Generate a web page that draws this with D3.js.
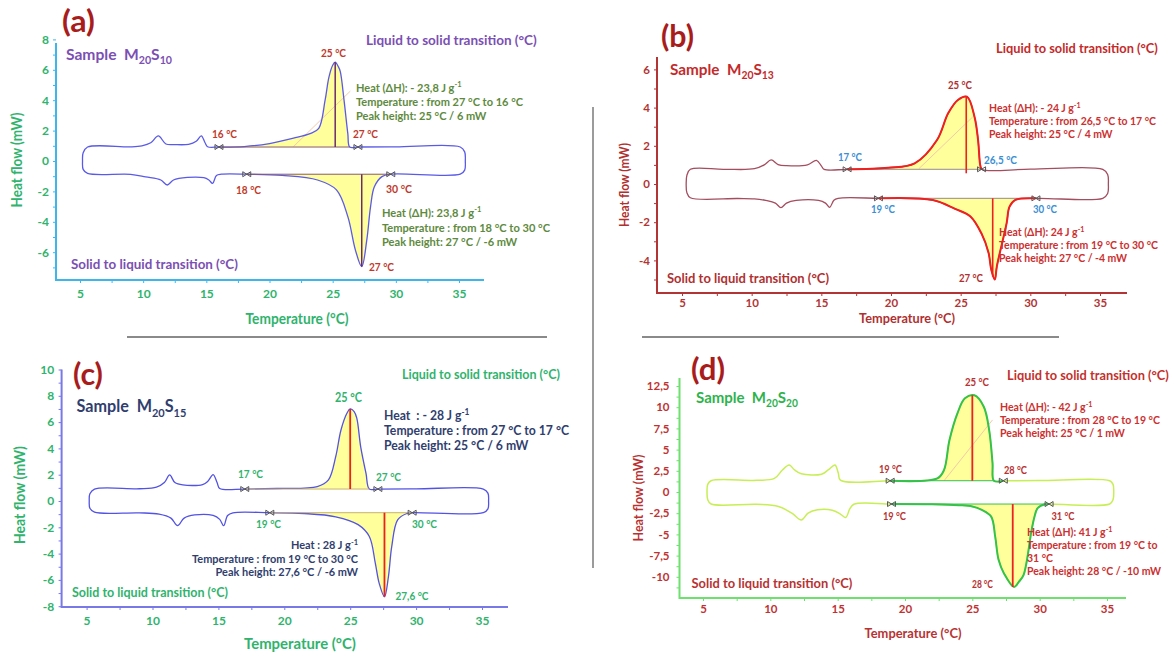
<!DOCTYPE html>
<html><head><meta charset="utf-8">
<script src="https://cdn.jsdelivr.net/npm/d3@7"></script>
<style>body{margin:0;background:#fff}svg{display:block}text{font-family:Lato,'Open Sans',sans-serif}</style>
</head><body><svg id="c" width="1175" height="657"></svg>
<script>
// ---------- data ----------
const xTicks = [5,10,15,20,25,30,35];
const xMinor = [7.5,12.5,17.5,22.5,27.5,32.5];
const aYTicks = [8,6,4,2,0,-2,-4,-6];
const aYMinor = [7,5,3,1,-1,-3,-5,-7];
const bYTicks = [6,4,2,0,-2,-4];
const bYMinor = [5,3,1,-1,-3,-5];
const cYTicks = [10,8,6,4,2,0,-2,-4,-6,-8];
const cYMinor = [9,7,5,3,1,-1,-3,-5,-7];
const dYTicks = [12.5,10,7.5,5,2.5,0,-2.5,-5,-7.5,-10];
const dYMinor = [11.25,8.75,6.25,3.75,1.25,-1.25,-3.75,-6.25,-8.75,-11.25];

// panel (a) M20S10
const aUpper = [[5.6,0.92],[9,0.93],[9.9,1.0],[10.6,1.2],[11.2,1.65],[11.8,1.12],[12.5,1.08],[13.6,1.1],[14.2,1.3],[14.6,1.65],[14.9,1.2],[15.1,0.94],[16,0.92],[18,0.95],[20,1.15],[21.9,1.5],[23.2,1.8],[23.9,2.15],[24.4,4.0],[24.7,5.5],[25.0,6.3],[25.2,6.5],[25.45,6.2],[25.6,5.9],[25.9,4.0],[26.2,1.8],[26.35,0.92],[27,0.92],[30,0.93],[35.1,0.92]];
const aLower = [[5.6,-0.82],[9,-0.88],[10.2,-1.05],[11.4,-1.25],[11.9,-1.58],[12.4,-1.25],[13.5,-1.08],[14.8,-1.1],[15.2,-1.25],[15.5,-1.47],[15.8,-0.95],[16.2,-0.87],[18.2,-0.87],[21,-0.95],[23.8,-1.25],[25.3,-1.9],[26.2,-3.66],[26.8,-5.86],[27.3,-6.95],[27.7,-5.2],[28.0,-3.0],[28.3,-1.7],[28.9,-1.03],[29.6,-0.87],[35.1,-0.87]];
const aRightEnd = [[35.45,0.6],[35.5,0],[35.45,-0.6]];
const aLeftEnd = [[5.25,-0.55],[5.2,0],[5.25,0.55]];
const aFillUp = [16, 26.35], aBaseUp = 0.92;
const aFillLow = [18.2, 29.6], aBaseLow = -0.87;
const aMarksUp = [16, 27], aMarksLow = [18.2, 29.6];
const aPeakUp = [25.2, 6.5], aPeakLow = [27.3, -6.95];
const aTangent = [[21.9,0.95],[26.4,4.6]];

// panel (b) M20S13
const bUpper = [[5.6,0.77],[8,0.77],[10.2,0.8],[10.9,1.0],[11.4,1.26],[11.9,1.02],[12.5,0.96],[14.0,1.0],[14.65,1.24],[15.0,0.95],[15.2,0.77],[16.85,0.77],[19.8,0.85],[21.7,1.08],[23.3,2.3],[24.1,3.7],[24.8,4.4],[25.45,4.57],[26.0,3.5],[26.25,2.3],[26.4,1.0],[26.5,0.77],[30,0.78],[35.2,0.77]];
const bLower = [[5.6,-0.72],[9,-0.76],[10.2,-0.78],[11.0,-0.86],[11.7,-1.0],[12.1,-1.24],[12.5,-1.0],[13.2,-0.86],[14.8,-0.86],[15.3,-1.0],[15.6,-1.22],[15.9,-0.85],[16.2,-0.75],[19.1,-0.75],[23.0,-0.84],[24.6,-1.3],[25.7,-1.7],[26.5,-2.6],[27.0,-3.6],[27.2,-4.5],[27.45,-5.0],[27.6,-4.3],[28.3,-2.05],[28.5,-1.2],[28.9,-0.84],[30.4,-0.75],[35.2,-0.75]];
const bRightEnd = [[35.55,0.5],[35.6,0],[35.55,-0.5]];
const bLeftEnd = [[5.35,-0.45],[5.3,0],[5.35,0.45]];
const bFillUp = [16.85, 26.5], bBaseUp = 0.77;
const bFillLow = [19.1, 30.4], bBaseLow = -0.75;
const bMarksUp = [16.85, 26.5], bMarksLow = [19.1, 30.4];
const bPeakUp = [25.4, 4.57], bPeakLow = [27.3, -4.85];
const bTangent = [[22.0,0.8],[25.85,3.5]];

// panel (c) M20S15
const cUpper = [[5.6,0.91],[9,0.93],[10.3,1.05],[10.9,1.4],[11.3,1.98],[11.7,1.4],[12.3,1.22],[13.8,1.25],[14.2,1.5],[14.6,2.0],[14.9,1.4],[15.1,0.95],[17,0.91],[19.4,0.95],[22.5,1.09],[23.35,1.6],[23.9,3.37],[24.3,5.4],[24.75,6.67],[25.0,7.0],[25.3,6.8],[25.5,6.3],[25.8,4.1],[26.2,2.1],[26.45,0.91],[27.1,0.91],[30,0.92],[35.1,0.91]];
const cLower = [[5.6,-0.85],[9,-0.9],[10.5,-1.0],[11.4,-1.3],[11.9,-1.88],[12.4,-1.3],[13.2,-1.06],[14.6,-1.1],[15.1,-1.4],[15.4,-1.88],[15.7,-1.1],[16.1,-0.9],[18.9,-0.89],[21.5,-0.95],[23.9,-1.2],[25.6,-1.8],[26.45,-2.7],[26.9,-4.7],[27.2,-6.26],[27.6,-7.28],[27.9,-5.76],[28.15,-3.47],[28.6,-1.44],[29.3,-0.95],[29.7,-0.89],[35.1,-0.89]];
const cRightEnd = [[35.45,0.6],[35.5,0],[35.45,-0.6]];
const cLeftEnd = [[5.25,-0.55],[5.2,0],[5.25,0.55]];
const cFillUp = [17, 26.45], cBaseUp = 0.91;
const cFillLow = [18.9, 29.7], cBaseLow = -0.89;
const cMarksUp = [17, 27.1], cMarksLow = [18.9, 29.7];
const cPeakUp = [25.0, 7.0], cPeakLow = [27.6, -7.28];

// panel (d) M20S20
const dUpper = [[5.6,1.33],[9,1.38],[10.3,1.6],[10.9,2.6],[11.4,3.18],[11.8,2.6],[12.3,2.15],[13.8,2.1],[14.3,2.6],[14.8,3.18],[15.05,2.2],[15.2,1.4],[18.9,1.33],[22.4,1.6],[22.9,2.6],[23.3,6.1],[23.9,9.3],[24.45,11.05],[25.15,11.4],[25.85,10.06],[26.25,7.3],[26.5,3.4],[26.6,1.33],[27.3,1.33],[30,1.35],[35.2,1.33]];
const dLower = [[5.6,-1.42],[9,-1.45],[10.6,-1.7],[11.6,-2.5],[12.3,-3.3],[12.8,-2.5],[13.5,-2.1],[14.6,-2.15],[15.2,-2.6],[15.6,-3.0],[15.9,-2.0],[16.2,-1.45],[19.0,-1.42],[22,-1.45],[24,-1.55],[25.0,-1.7],[25.7,-2.1],[26.4,-2.9],[26.7,-5.3],[26.95,-8.0],[27.35,-9.6],[28.1,-11.2],[28.45,-10.6],[28.8,-9.8],[29.4,-4.5],[29.6,-3.0],[29.85,-1.9],[30.4,-1.45],[30.7,-1.42],[35.2,-1.42]];
const dRightEnd = [[35.45,0.9],[35.5,0],[35.45,-0.9]];
const dLeftEnd = [[5.35,-0.9],[5.3,0],[5.35,0.9]];
const dFillUp = [18.9, 26.6], dBaseUp = 1.33;
const dFillLow = [19.0, 30.7], dBaseLow = -1.42;
const dMarksUp = [18.9, 27.3], dMarksLow = [19.0, 30.7];
const dPeakUp = [25.0, 11.4], dPeakLow = [28.0, -11.2];
const dTangent = [[22.9,1.33],[26.5,8.5]];

// ---------- helpers ----------
const svg = d3.select('#c');
const fmt = v => String(v).replace('.', ',');

function txt(g, x, y, parts, o) {
  o = Object.assign({size:12, fill:'#000', weight:'normal', anchor:'start', sx:0.87, rot:0}, o);
  const t = g.append('text').attr('font-size', o.size).attr('fill', o.fill)
    .attr('font-weight', o.weight).attr('text-anchor', o.anchor).style('white-space', 'pre');
  let shift = 0;
  (Array.isArray(parts) ? parts : [parts]).forEach(p => {
    if (typeof p === 'string') { t.append('tspan').attr('dy', -shift).text(p); shift = 0; }
    else {
      const s = p.sub ? o.size * 0.28 : -o.size * 0.38;
      t.append('tspan').attr('dy', s - shift).attr('font-size', o.size * 0.68).text(p.t);
      shift = s;
    }
  });
  let sx = o.sx;
  if (o.w) sx = o.w / t.node().getComputedTextLength();
  t.attr('transform', `translate(${x},${y})` + (o.rot ? ` rotate(${o.rot})` : '') + ` scale(${sx},1)`);
  return t;
}
function block(g, x, y, dy, lines, o) {
  const ts = lines.map((l, i) => txt(g, x, y + i * dy, l, Object.assign({}, o, {w: null})));
  if (o.w) {
    const m = d3.max(ts, t => t.node().getComputedTextLength());
    const sx = o.w / m;
    ts.forEach((t, i) => t.attr('transform', `translate(${x},${y + i * dy}) scale(${sx},1)`));
  }
}

function panel(p) {
  const g = svg.append('g');
  const x = d3.scaleLinear().domain([5, 35]).range([p.x5, p.x35]);
  const y = d3.scaleLinear().domain([0, 1]).range([p.y0, p.y0 - p.yk]);
  // axes
  const gx = g.append('g').attr('transform', `translate(0,${p.axB})`)
    .call(d3.axisBottom(x).tickValues(xTicks).tickSize(3).tickPadding(p.xPad).tickFormat(fmt));
  const gxm = g.append('g').attr('transform', `translate(0,${p.axB})`)
    .call(d3.axisBottom(x).tickValues(xMinor).tickSize(3).tickFormat(''));
  const gy = g.append('g').attr('transform', `translate(${p.axL},0)`)
    .call(d3.axisLeft(y).tickValues(p.yTicks).tickSize(3).tickPadding(p.yPad).tickFormat(fmt));
  const gym = g.append('g').attr('transform', `translate(${p.axL},0)`)
    .call(d3.axisLeft(y).tickValues(p.yMinor).tickSize(3).tickFormat(''));
  [gx, gxm, gy, gym].forEach(a => {
    a.select('.domain').remove();
    a.selectAll('line').attr('stroke', p.axisColor).attr('stroke-width', 1);
    a.selectAll('text').attr('fill', p.tickColor).attr('font-size', p.tickSize)
      .attr('font-family', 'Lato, sans-serif').attr('font-weight', 'bold');
  });
  g.append('path').attr('d', `M${p.axL},${p.axT}V${p.axB}H${p.axR}`)
    .attr('fill', 'none').attr('stroke', p.axisColor).attr('stroke-width', 2);

  const cr = d3.curveCatmullRom.alpha(0.5);
  const inR = (pts, r) => pts.filter(d => d[0] >= r[0] - 1e-9 && d[0] <= r[1] + 1e-9);
  const area = base => d3.area().x(d => x(d[0])).y0(y(base)).y1(d => y(d[1])).curve(cr);
  const line = d3.line().x(d => x(d[0])).y(d => y(d[1])).curve(cr);
  // fills
  g.append('path').attr('d', area(p.baseUp)(inR(p.upper, p.fillUp))).attr('fill', '#ffff9c');
  g.append('path').attr('d', area(p.baseLow)(inR(p.lower, p.fillLow))).attr('fill', '#ffff9c');
  if (p.tangent) g.append('path').attr('d', d3.line().x(d => x(d[0])).y(d => y(d[1]))(p.tangent))
    .attr('stroke', '#f4c9a8').attr('stroke-width', 1).attr('fill', 'none');
  // loop
  const loopPts = p.upper.concat(p.rightEnd, p.lower.slice().reverse(), p.leftEnd);
  g.append('path').attr('d', d3.line().x(d => x(d[0])).y(d => y(d[1])).curve(d3.curveCatmullRomClosed.alpha(0.5))(loopPts))
    .attr('fill', 'none').attr('stroke', p.loopColor).attr('stroke-width', p.loopWidth);
  // baseline segments inside integration
  g.append('line').attr('x1', x(p.fillUp[0])).attr('x2', x(p.fillUp[1])).attr('y1', y(p.baseUp)).attr('y2', y(p.baseUp))
    .attr('stroke', p.baseColor).attr('stroke-width', 1);
  g.append('line').attr('x1', x(p.fillLow[0])).attr('x2', x(p.fillLow[1])).attr('y1', y(p.baseLow)).attr('y2', y(p.baseLow))
    .attr('stroke', p.baseColor).attr('stroke-width', 1);
  // highlights
  if (p.hiColor) {
    g.append('path').attr('d', line(inR(p.upper, p.hiUp))).attr('fill', 'none').attr('stroke', p.hiColor).attr('stroke-width', 2);
    g.append('path').attr('d', line(inR(p.lower, p.hiLow))).attr('fill', 'none').attr('stroke', p.hiColor).attr('stroke-width', 2);
  }
  // peak lines
  g.append('line').attr('x1', x(p.peakUp[0])).attr('x2', x(p.peakUp[0])).attr('y1', y(p.baseUp) + p.peakExt).attr('y2', y(p.peakUp[1]))
    .attr('stroke', p.peakColor).attr('stroke-width', p.peakWidth);
  g.append('line').attr('x1', x(p.peakLow[0])).attr('x2', x(p.peakLow[0])).attr('y1', y(p.baseLow)).attr('y2', y(p.peakLow[1]))
    .attr('stroke', p.peakColor).attr('stroke-width', p.peakWidth);
  // markers
  const mk = 'M-4,-2.5L4,2.5L4,-2.5L-4,2.5Z';
  p.marksUp.forEach(t => g.append('path').attr('d', mk).attr('transform', `translate(${x(t)},${y(p.baseUp)})`)
    .attr('fill', 'none').attr('stroke', '#555').attr('stroke-width', 1));
  p.marksLow.forEach(t => g.append('path').attr('d', mk).attr('transform', `translate(${x(t)},${y(p.baseLow)})`)
    .attr('fill', 'none').attr('stroke', '#555').attr('stroke-width', 1));
  return g;
}

// dividers
svg.append('line').attr('x1', 593).attr('x2', 593).attr('y1', 107).attr('y2', 568).attr('stroke', '#7a7a7a').attr('stroke-width', 1.5);
svg.append('line').attr('x1', 127).attr('x2', 547).attr('y1', 337).attr('y2', 337).attr('stroke', '#8a8a8a').attr('stroke-width', 2);
svg.append('line').attr('x1', 642).attr('x2', 1059).attr('y1', 337).attr('y2', 337).attr('stroke', '#8a8a8a').attr('stroke-width', 2);

const RED = '#a81c1c';
// ---------- (a) ----------
const gA = panel({x5:80, x35:459, axL:56, axR:484, axT:43, axB:280, y0:161, yk:15.2, xPad:6.5, yPad:4, tickSize:12,
  yTicks:aYTicks, yMinor:aYMinor, axisColor:'#3fb6ea', tickColor:'#2fb36d',
  upper:aUpper, lower:aLower, rightEnd:aRightEnd, leftEnd:aLeftEnd, fillUp:aFillUp, fillLow:aFillLow,
  baseUp:aBaseUp, baseLow:aBaseLow, marksUp:aMarksUp, marksLow:aMarksLow, peakUp:aPeakUp, peakLow:aPeakLow,
  tangent:aTangent, loopColor:'#5a5ae8', loopWidth:1.3, baseColor:'#8a5a6a', peakColor:'#6a2c6c', peakWidth:1.5, peakExt:0});
(function(g){
  const G = '#2fb36d', P = '#7b4fb3', R = '#c0392b', O = '#5e8a3e';
  txt(g, 62, 32, '(a)', {size:31, fill:RED, w:33, weight:'bold'});
  txt(g, 66, 60, ['Sample  M', {t:'20', sub:1}, 'S', {t:'10', sub:1}], {size:16, fill:P, w:106, weight:'bold'});
  txt(g, 366, 45, 'Liquid to solid transition (°C)', {size:14, fill:P, w:171, weight:'bold'});
  txt(g, 321, 57, '25 °C', {size:12, fill:R, w:25, weight:'bold'});
  block(g, 356, 92, 14, [['Heat (ΔH): - 23,8 J g', {t:'-1'}], 'Temperature : from 27 °C to 16 °C', 'Peak height: 25 °C / 6 mW'], {size:12, fill:O, w:167, weight:'bold'});
  txt(g, 212, 138, '16 °C', {size:12, fill:R, w:25, weight:'bold'});
  txt(g, 353, 138, '27 °C', {size:12, fill:R, w:25, weight:'bold'});
  txt(g, 236, 194, '18 °C', {size:12, fill:R, w:25, weight:'bold'});
  txt(g, 386, 193, '30 °C', {size:12, fill:R, w:26, weight:'bold'});
  txt(g, 369, 271, '27 °C', {size:12, fill:R, w:25, weight:'bold'});
  block(g, 382, 217, 14.5, [['Heat (ΔH): 23,8 J g', {t:'-1'}], 'Temperature : from 18 °C to 30 °C', 'Peak height: 27 °C / -6 mW'], {size:12, fill:O, w:168, weight:'bold'});
  txt(g, 71, 269, 'Solid to liquid transition (°C)', {size:14, fill:P, w:167, weight:'bold'});
  txt(g, 297, 324, 'Temperature (°C)', {size:15, fill:G, w:103, anchor:'middle', weight:'bold'});
  txt(g, 22, 160, 'Heat flow (mW)', {size:15, fill:G, w:95, anchor:'middle', rot:-90, weight:'bold'});
})(gA);

// ---------- (b) ----------
const gB = panel({x5:682, x35:1100, axL:657, axR:1127, axT:57, axB:293, y0:184, yk:19.1, xPad:2.5, yPad:4, tickSize:11.5,
  yTicks:bYTicks, yMinor:bYMinor, axisColor:'#b23434', tickColor:'#b23434',
  upper:bUpper, lower:bLower, rightEnd:bRightEnd, leftEnd:bLeftEnd, fillUp:bFillUp, fillLow:bFillLow,
  baseUp:bBaseUp, baseLow:bBaseLow, marksUp:bMarksUp, marksLow:bMarksLow, peakUp:bPeakUp, peakLow:bPeakLow,
  tangent:bTangent, loopColor:'#a34d5e', loopWidth:1.3, baseColor:'#9a8a8a', hiColor:'#ee2020', hiUp:bFillUp, hiLow:bFillLow,
  peakColor:'#ee2020', peakWidth:1.6, peakExt:4});
(function(g){
  const R = '#c42a2a', B = '#3a8fd4', D = '#b03030';
  txt(g, 661, 47, '(b)', {size:31, fill:RED, w:33, weight:'bold'});
  txt(g, 670, 75, ['Sample  M', {t:'20', sub:1}, 'S', {t:'13', sub:1}], {size:16, fill:R, w:104, weight:'bold'});
  txt(g, 996, 53, 'Liquid to solid transition (°C)', {size:14, fill:R, w:162, weight:'bold'});
  txt(g, 948, 89, '25 °C', {size:11.5, fill:D, w:24, weight:'bold'});
  block(g, 989, 112, 13, [['Heat (ΔH): - 24 J g', {t:'-1'}], 'Temperature : from 26,5 °C to 17 °C', 'Peak height: 25 °C / 4 mW'], {size:11.5, fill:'#cc3030', w:167, weight:'bold'});
  txt(g, 838, 161, '17 °C', {size:11.5, fill:B, w:24, weight:'bold'});
  txt(g, 984, 164, '26,5 °C', {size:11.5, fill:B, w:33, weight:'bold'});
  txt(g, 871, 213, '19 °C', {size:11.5, fill:B, w:24, weight:'bold'});
  txt(g, 1033, 213, '30 °C', {size:11.5, fill:B, w:24, weight:'bold'});
  block(g, 999, 236, 13, [['Heat (ΔH): 24 J g', {t:'-1'}], 'Temperature : from 19 °C to 30 °C', 'Peak height: 27 °C / -4 mW'], {size:11.5, fill:'#cc3030', w:159, weight:'bold'});
  txt(g, 959, 282, '27 °C', {size:11.5, fill:D, w:24, weight:'bold'});
  txt(g, 667, 283, 'Solid to liquid transition (°C)', {size:14, fill:D, w:162, weight:'bold'});
  txt(g, 907, 323, 'Temperature (°C)', {size:14, fill:D, w:96, anchor:'middle', weight:'bold'});
  txt(g, 629, 185, 'Heat flow (mW)', {size:14, fill:D, w:84, anchor:'middle', rot:-90, weight:'bold'});
})(gB);

// ---------- (c) ----------
const gC = panel({x5:86.6, x35:482, axL:61.6, axR:508, axT:369.5, axB:607, y0:501, yk:13.15, xPad:6.5, yPad:4.5, tickSize:12,
  yTicks:cYTicks, yMinor:cYMinor, axisColor:'#7878e6', tickColor:'#2fb36d',
  upper:cUpper, lower:cLower, rightEnd:cRightEnd, leftEnd:cLeftEnd, fillUp:cFillUp, fillLow:cFillLow,
  baseUp:cBaseUp, baseLow:cBaseLow, marksUp:cMarksUp, marksLow:cMarksLow, peakUp:cPeakUp, peakLow:cPeakLow,
  loopColor:'#5252e4', loopWidth:1.3, baseColor:'#c8b070', peakColor:'#e8231b', peakWidth:1.8, peakExt:0});
(function(g){
  const G = '#2fb36d', N = '#2f3e6e';
  txt(g, 73, 385, '(c)', {size:31, fill:RED, w:30, weight:'bold'});
  txt(g, 76.5, 412, ['Sample  M', {t:'20', sub:1}, 'S', {t:'15', sub:1}], {size:17, fill:N, w:110, weight:'bold'});
  txt(g, 402, 379, 'Liquid to solid transition (°C)', {size:14, fill:G, w:158, weight:'bold'});
  txt(g, 335, 402, '25 °C', {size:12.5, fill:G, w:27, weight:'bold'});
  block(g, 384, 420, 15, [['Heat  : - 28 J g', {t:'-1'}], 'Temperature : from 27 °C to 17 °C', 'Peak height: 25 °C / 6 mW'], {size:13, fill:N, w:185, weight:'bold'});
  txt(g, 238, 478, '17 °C', {size:12, fill:G, w:25, weight:'bold'});
  txt(g, 376, 481, '27 °C', {size:12, fill:G, w:25, weight:'bold'});
  txt(g, 256, 528, '19 °C', {size:12, fill:G, w:25, weight:'bold'});
  txt(g, 412, 528, '30 °C', {size:12, fill:G, w:25, weight:'bold'});
  const lines = [['Heat : 28 J g', {t:'-1'}], 'Temperature : from 19 °C to 30 °C', 'Peak height: 27,6 °C / -6 mW'];
  const ts = lines.map((l, i) => txt(g, 358, 549 + i * 13.5, l, {size:11.5, fill:N, anchor:'end', weight:'bold'}));
  const m = d3.max(ts, t => t.node().getComputedTextLength());
  ts.forEach((t, i) => t.attr('transform', `translate(358,${549 + i * 13.5}) scale(${166 / m},1)`));
  txt(g, 395.5, 600, '27,6 °C', {size:12, fill:G, w:33, weight:'bold'});
  txt(g, 72, 597, 'Solid to liquid transition (°C)', {size:14, fill:G, w:156, weight:'bold'});
  txt(g, 300, 649, 'Temperature (°C)', {size:16, fill:G, w:112, anchor:'middle', weight:'bold'});
  txt(g, 25, 495, 'Heat flow (mW)', {size:16, fill:G, w:98, anchor:'middle', rot:-90, weight:'bold'});
})(gC);

// ---------- (d) ----------
const gD = panel({x5:703, x35:1107, axL:679.5, axR:1126, axT:378, axB:598, y0:492, yk:8.48, xPad:3.5, yPad:7, tickSize:11.5,
  yTicks:dYTicks, yMinor:dYMinor, axisColor:'#6ee06e', tickColor:'#c03232',
  upper:dUpper, lower:dLower, rightEnd:dRightEnd, leftEnd:dLeftEnd, fillUp:dFillUp, fillLow:dFillLow,
  baseUp:dBaseUp, baseLow:dBaseLow, marksUp:dMarksUp, marksLow:dMarksLow, peakUp:dPeakUp, peakLow:dPeakLow,
  tangent:dTangent, loopColor:'#c8ee55', loopWidth:1.5, baseColor:'#34c24c', hiColor:'#34c24c', hiUp:[18.9, 27.3], hiLow:dFillLow,
  peakColor:'#ee2222', peakWidth:1.8, peakExt:0});
(function(g){
  const R = '#c4302c', D = '#b83232', GR = '#2db34c';
  txt(g, 691, 380, '(d)', {size:31, fill:RED, w:34, weight:'bold'});
  txt(g, 696, 403, ['Sample  M', {t:'20', sub:1}, 'S', {t:'20', sub:1}], {size:16, fill:GR, w:102, weight:'bold'});
  txt(g, 1007, 380, 'Liquid to solid transition (°C)', {size:14, fill:R, w:162, weight:'bold'});
  txt(g, 965, 386, '25 °C', {size:11.5, fill:D, w:24, weight:'bold'});
  block(g, 1000, 411, 13, [['Heat (ΔH): - 42 J g', {t:'-1'}], 'Temperature : from 28 °C to 19 °C', 'Peak height: 25 °C / 1 mW'], {size:11.5, fill:'#cc3030', w:160, weight:'bold'});
  txt(g, 879, 473, '19 °C', {size:11.5, fill:D, w:23, weight:'bold'});
  txt(g, 1004, 474, '28 °C', {size:11.5, fill:D, w:23, weight:'bold'});
  txt(g, 883, 520, '19 °C', {size:11.5, fill:D, w:23, weight:'bold'});
  txt(g, 1051.5, 520, '31 °C', {size:11.5, fill:D, w:23, weight:'bold'});
  block(g, 1027, 536, 13, [['Heat (ΔH): 41 J g', {t:'-1'}], 'Temperature : from 19 °C to', '31 °C', 'Peak height: 28 °C / -10 mW'], {size:11.5, fill:'#cc3030', w:134, weight:'bold'});
  txt(g, 972, 588, '28 °C', {size:10.5, fill:D, w:21, weight:'bold'});
  txt(g, 691.5, 588, 'Solid to liquid transition (°C)', {size:14, fill:D, w:161, weight:'bold'});
  txt(g, 913, 638, 'Temperature (°C)', {size:14, fill:D, w:97, anchor:'middle', weight:'bold'});
  txt(g, 643, 498, 'Heat flow (mW)', {size:14, fill:D, w:87, anchor:'middle', rot:-90, weight:'bold'});
})(gD);
</script></body></html>
